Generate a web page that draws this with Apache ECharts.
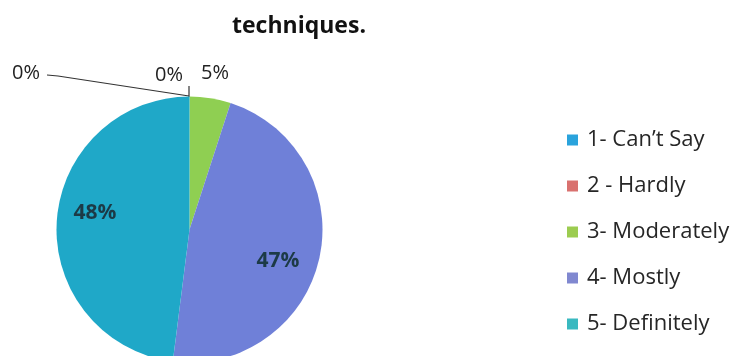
<!DOCTYPE html>
<html><head><meta charset="utf-8">
<script src="https://cdn.jsdelivr.net/npm/echarts@6/dist/echarts.min.js"></script>
<style>html,body{margin:0;padding:0;background:#fff}#c{width:743px;height:356px}</style>
</head><body><div id="c"></div>
<script>
const titleText = 'techniques.';
const categories = ["1- Can\u2019t Say", "2 - Hardly", "3- Moderately", "4- Mostly", "5- Definitely"];
const values = [0, 0, 5, 47, 48];
const labels = ['0%', '0%', '5%', '47%', '48%'];
const colors = ['#2aa3dc', '#d9716f', '#8fcf52', '#6f80d8', '#1fa8c8'];
const legendColors = ['#2aa3dc', '#d9716f', '#9ccc50', '#8088d0', '#39b9c0'];

const chart = echarts.init(document.getElementById('c'));
const cx = 189.5, cy = 229.5;
const layoutFor = {
  0: {x: 12, y: 73, align: 'left', verticalAlign: 'middle', labelLinePoints: [[47, 75], [58, 76], [189, 96]]},
  1: {x: 183, y: 75, align: 'right', verticalAlign: 'middle', labelLinePoints: [[189, 86], [189, 89], [189, 97]]},
  2: {x: 215, y: 73, align: 'center', verticalAlign: 'middle'},
  3: {x: 278, y: 261, align: 'center', verticalAlign: 'middle'},
  4: {x: 95, y: 213, align: 'center', verticalAlign: 'middle'}
};
chart.setOption({
  backgroundColor: '#fff',
  animation: false,
  title: {text: titleText, left: 294, top: 10, textAlign: 'center',
    textStyle: {fontFamily: 'Open Sans', fontWeight: 'bold', fontSize: 23, color: '#111'}},
  legend: {
    orient: 'vertical', left: 562, top: 124, itemGap: 24, itemWidth: 11, itemHeight: 11, icon: 'rect',
    data: categories.map((c, i) => ({name: c, itemStyle: {color: legendColors[i]}})),
    textStyle: {fontFamily: 'Open Sans', fontSize: 22, color: '#262626', padding: [0, 0, 0, 4]}
  },
  series: [{
    type: 'pie', center: [cx, cy], radius: 133, startAngle: 90, clockwise: true,
    avoidLabelOverlap: false, stillShowZeroSum: true,
    label: {show: true, fontFamily: 'Open Sans', fontSize: 20, color: '#222'},
    labelLine: {show: true, lineStyle: {color: '#333', width: 1.2}, smooth: false},
    labelLayout: function (p) { return layoutFor[p.dataIndex]; },
    data: categories.map((c, i) => ({
      name: c, value: values[i],
      itemStyle: {color: colors[i]},
      label: Object.assign({formatter: labels[i]}, i >= 3 ? {fontWeight: 'bold', color: '#1c3a46', fontSize: 21} : {}),
      labelLine: {show: i < 2}
    }))
  }]
});
</script></body></html>
